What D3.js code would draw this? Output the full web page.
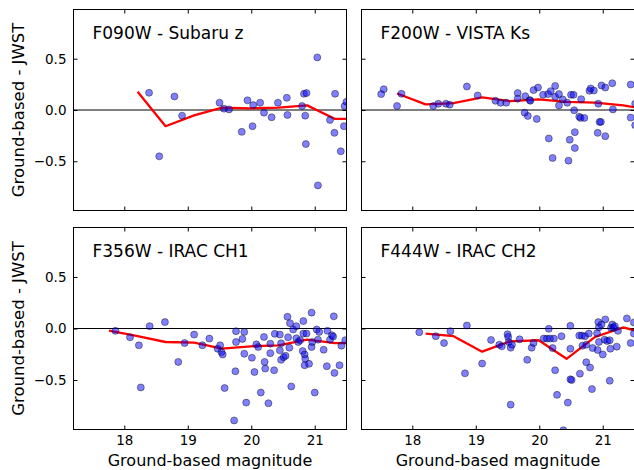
<!DOCTYPE html>
<html>
<head>
<meta charset="utf-8">
<script src="https://cdn.jsdelivr.net/npm/d3@7"></script>
<style>
  html, body { margin: 0; padding: 0; background: #fff; }
  svg { display: block; font-family: "DejaVu Sans", sans-serif; }
</style>
</head>
<body>
<svg id="chart" width="634" height="470"></svg>
<script>
// Shared axis settings
const xDomain = [17.2, 21.5];
const yDomain = [-0.98, 0.98];
const xTicks = [18, 19, 20, 21];
const yTicks = [-0.5, 0.0, 0.5];
const xLabel = "Ground-based magnitude";
const yLabel = "Ground-based - JWST";

// Centres of the magnitude bins used for the running median
const binCenters = [17.76, 18.21, 18.65, 19.10, 19.54, 19.99, 20.43, 20.88, 21.32, 21.77];

// F090W vs Subaru z
const f090wTitle = "F090W - Subaru z";
const f090wMag  = [18.39, 18.55, 18.79, 18.91, 19.50, 19.57, 19.65, 19.85, 19.94, 20.02, 20.03, 20.14, 20.20, 20.32, 20.42, 20.56, 20.57, 20.80, 20.83, 20.87, 20.85, 20.86, 21.04, 21.05, 21.24, 21.31, 21.32, 21.41, 21.46, 21.47, 21.50];
const f090wDiff = [0.168, -0.452, 0.132, -0.055, 0.071, 0.013, 0.006, -0.213, 0.094, -0.158, 0.048, 0.071, -0.026, -0.071, 0.071, 0.119, -0.048, 0.039, 0.158, 0.165, -0.055, -0.332, 0.513, -0.735, -0.097, -0.223, 0.158, -0.403, -0.158, 0.039, 0.080];
const f090wMedian = [null, 0.177, -0.158, -0.052, 0.023, 0.016, 0.023, 0.045, -0.087, -0.087];

// F200W vs VISTA Ks
const f200wTitle = "F200W - VISTA Ks";
const f200wMag  = [17.51, 17.55, 17.76, 17.83, 18.33, 18.41, 18.53, 18.59, 18.86, 19.03, 19.31, 19.39, 19.48, 19.66, 19.66, 19.78, 19.77, 19.82, 19.85, 19.86, 19.91, 19.98, 19.96, 20.06, 20.15, 20.14, 20.18, 20.21, 20.25, 20.25, 20.31, 20.31, 20.37, 20.44, 20.46, 20.48, 20.50, 20.54, 20.55, 20.56, 20.56, 20.63, 20.65, 20.66, 20.71, 20.79, 20.81, 20.86, 20.93, 20.95, 20.97, 20.92, 20.98, 21.04, 21.04, 21.15, 21.16, 21.44, 21.44, 21.51, 21.51];
const f200wDiff = [0.155, 0.203, 0.039, 0.158, 0.039, 0.061, 0.061, 0.052, 0.229, 0.142, 0.090, 0.071, 0.071, 0.165, 0.110, 0.135, -0.026, -0.058, 0.097, 0.090, 0.194, 0.219, -0.087, 0.148, -0.277, 0.155, 0.184, -0.468, 0.235, 0.129, 0.155, 0.045, 0.103, 0.071, -0.494, -0.290, 0.148, 0.148, -0.003, -0.216, -0.371, -0.065, -0.077, 0.106, -0.077, 0.187, 0.210, 0.190, 0.061, -0.116, -0.116, -0.223, 0.239, 0.219, -0.255, 0.261, 0.006, 0.248, -0.074, 0.061, -0.148];
const f200wMedian = [0.161, 0.055, 0.068, 0.123, 0.087, 0.103, 0.080, 0.071, 0.045, 0.000];

// F356W vs IRAC CH1
const f356wTitle = "F356W - IRAC CH1";
const f356wMag  = [17.86, 18.09, 18.23, 18.26, 18.40, 18.64, 18.85, 18.95, 19.10, 19.23, 19.34, 19.47, 19.51, 19.53, 19.55, 19.58, 19.73, 19.75, 19.76, 19.76, 19.86, 19.89, 19.89, 19.92, 20.01, 20.05, 20.08, 20.11, 20.15, 20.20, 20.21, 20.22, 20.27, 20.30, 20.30, 20.36, 20.37, 20.45, 20.45, 20.47, 20.47, 20.51, 20.54, 20.57, 20.58, 20.60, 20.61, 20.63, 20.66, 20.71, 20.71, 20.74, 20.77, 20.81, 20.82, 20.82, 20.84, 20.85, 20.84, 20.87, 20.91, 20.95, 20.95, 20.96, 21.00, 21.03, 21.05, 21.07, 21.14, 21.19, 21.20, 21.24, 21.27, 21.29, 21.30, 21.31, 21.39, 21.42, 21.48];
const f356wDiff = [-0.023, -0.085, -0.163, -0.572, 0.023, 0.062, -0.324, -0.141, -0.059, -0.163, -0.098, -0.196, -0.163, -0.229, -0.252, -0.578, -0.892, -0.415, -0.026, -0.131, -0.101, -0.033, -0.245, -0.719, -0.284, -0.422, -0.154, -0.180, -0.621, -0.082, -0.324, -0.389, -0.725, -0.147, -0.239, -0.405, -0.052, -0.059, -0.212, -0.144, -0.304, -0.278, -0.265, 0.114, -0.085, -0.186, 0.052, -0.562, -0.010, 0.023, -0.095, -0.131, -0.114, -0.219, 0.072, -0.049, -0.252, -0.294, -0.356, -0.049, -0.343, 0.154, -0.180, -0.131, -0.621, -0.010, -0.108, -0.033, -0.206, -0.366, -0.023, -0.108, -0.065, -0.078, 0.118, -0.431, -0.356, -0.167, -0.114];
const f356wMedian = [-0.020, -0.075, -0.131, -0.137, -0.196, -0.173, -0.163, -0.108, -0.141, -0.140];

// F444W vs IRAC CH2
const f444wTitle = "F444W - IRAC CH2";
const f444wMag  = [18.11, 18.37, 18.50, 18.60, 18.86, 18.83, 19.10, 19.24, 19.37, 19.41, 19.50, 19.51, 19.52, 19.55, 19.55, 19.57, 19.69, 19.81, 19.88, 19.91, 20.07, 20.12, 20.15, 20.17, 20.21, 20.23, 20.25, 20.28, 20.35, 20.38, 20.45, 20.49, 20.49, 20.49, 20.51, 20.63, 20.64, 20.67, 20.68, 20.72, 20.74, 20.74, 20.78, 20.80, 20.83, 20.84, 20.91, 20.92, 20.93, 20.94, 20.94, 20.98, 21.00, 21.03, 21.04, 21.07, 21.11, 21.11, 21.12, 21.13, 21.15, 21.17, 21.19, 21.22, 21.24, 21.38, 21.44, 21.49, 21.49];
const f444wDiff = [-0.036, -0.075, -0.141, -0.026, 0.029, -0.435, -0.340, -0.111, -0.157, -0.173, -0.056, -0.082, -0.131, -0.739, -0.186, -0.157, -0.105, -0.304, -0.186, -0.141, -0.098, -0.098, -0.003, -0.098, -0.190, -0.098, -0.405, -0.644, -0.075, -0.987, -0.719, 0.026, -0.196, -0.493, -0.500, -0.069, -0.438, -0.069, -0.167, -0.075, -0.157, -0.327, -0.049, -0.379, -0.588, -0.190, -0.046, -0.209, 0.062, 0.013, -0.131, 0.039, -0.252, -0.108, 0.088, -0.121, -0.114, -0.507, -0.196, 0.007, 0.039, 0.007, 0.023, -0.176, -0.023, 0.098, -0.141, 0.059, -0.049];
const f444wMedian = [null, -0.049, -0.075, -0.225, -0.124, -0.114, -0.294, -0.082, 0.010, -0.060];

// Panel frames (2 x 2 grid)
const cols = [[73.5, 346.5], [361.5, 634.5]];
const rows = [[9.5, 210.5], [227.5, 429.5]];

const panels = [
  { title: f090wTitle, mag: f090wMag, diff: f090wDiff, median: f090wMedian, col: 0, row: 0 },
  { title: f200wTitle, mag: f200wMag, diff: f200wDiff, median: f200wMedian, col: 1, row: 0 },
  { title: f356wTitle, mag: f356wMag, diff: f356wDiff, median: f356wMedian, col: 0, row: 1 },
  { title: f444wTitle, mag: f444wMag, diff: f444wDiff, median: f444wMedian, col: 1, row: 1 }
];

const svg = d3.select("#chart");
const fmt = d3.format(".1f");

panels.forEach((p, i) => {
  const [x0, x1] = cols[p.col];
  const [y0, y1] = rows[p.row];
  const x = d3.scaleLinear().domain(xDomain).range([x0, x1]);
  const y = d3.scaleLinear().domain(yDomain).range([y1, y0]);

  const clipId = "clip" + i;
  svg.append("clipPath").attr("id", clipId)
    .append("rect")
    .attr("x", x0).attr("y", y0)
    .attr("width", x1 - x0).attr("height", y1 - y0);

  const g = svg.append("g");
  const plot = g.append("g").attr("clip-path", `url(#${clipId})`);

  // zero reference line
  plot.append("line")
    .attr("x1", x0).attr("x2", x1)
    .attr("y1", y(0)).attr("y2", y(0))
    .attr("stroke", "#000").attr("stroke-width", 1);

  // running median
  const medPts = binCenters.map((c, k) => [c, p.median[k]]).filter(d => d[1] !== null);
  const line = d3.line().x(d => x(d[0])).y(d => y(d[1]));
  plot.append("path")
    .datum(medPts)
    .attr("d", line)
    .attr("fill", "none")
    .attr("stroke", "#ff0000")
    .attr("stroke-width", 2.3)
    .attr("stroke-linejoin", "round");

  // individual sources
  plot.selectAll("circle")
    .data(p.mag.map((m, k) => [m, p.diff[k]]))
    .join("circle")
    .attr("cx", d => x(d[0]))
    .attr("cy", d => y(d[1]))
    .attr("r", 3.5)
    .attr("fill", "rgba(0,0,255,0.5)")
    .attr("stroke", "rgba(0,0,0,0.5)")
    .attr("stroke-width", 0.8);

  // axes with inward ticks on all four sides
  const bottom = d3.axisBottom(x).tickValues(xTicks).tickSize(-4).tickPadding(6)
    .tickFormat(p.row === 1 ? d3.format("d") : () => "");
  const top = d3.axisTop(x).tickValues(xTicks).tickSize(-4).tickFormat(() => "");
  const left = d3.axisLeft(y).tickValues(yTicks).tickSize(-4).tickPadding(7)
    .tickFormat(p.col === 0 ? fmt : () => "");
  const right = d3.axisRight(y).tickValues(yTicks).tickSize(-4).tickFormat(() => "");

  const axes = [
    g.append("g").attr("transform", `translate(0,${y1})`).call(bottom),
    g.append("g").attr("transform", `translate(0,${y0})`).call(top),
    g.append("g").attr("transform", `translate(${x0},0)`).call(left),
    g.append("g").attr("transform", `translate(${x1},0)`).call(right)
  ];
  axes.forEach(a => {
    a.select(".domain").remove();
    a.selectAll(".tick line").attr("stroke", "#000").attr("stroke-width", 1);
    a.selectAll(".tick text")
      .attr("fill", "#000")
      .style("font-family", "'DejaVu Sans', sans-serif")
      .style("font-size", "13.5px");
  });

  // frame
  g.append("rect")
    .attr("x", x0).attr("y", y0)
    .attr("width", x1 - x0).attr("height", y1 - y0)
    .attr("fill", "none").attr("stroke", "#000").attr("stroke-width", 1);

  // panel title
  g.append("text")
    .attr("x", x0 + 19).attr("y", y0 + 29)
    .attr("font-size", 17)
    .attr("fill", "#000")
    .text(p.title);

  if (p.row === 1) {
    g.append("text")
      .attr("x", (x0 + x1) / 2).attr("y", 466)
      .attr("text-anchor", "middle")
      .attr("font-size", 16)
      .attr("fill", "#000")
      .text(xLabel);
  }
  if (p.col === 0) {
    const cy = (y0 + y1) / 2;
    g.append("text")
      .attr("transform", `translate(24,${cy}) rotate(-90)`)
      .attr("text-anchor", "middle")
      .attr("font-size", 16.5)
      .attr("fill", "#000")
      .text(yLabel);
  }
});
</script>
</body>
</html>
